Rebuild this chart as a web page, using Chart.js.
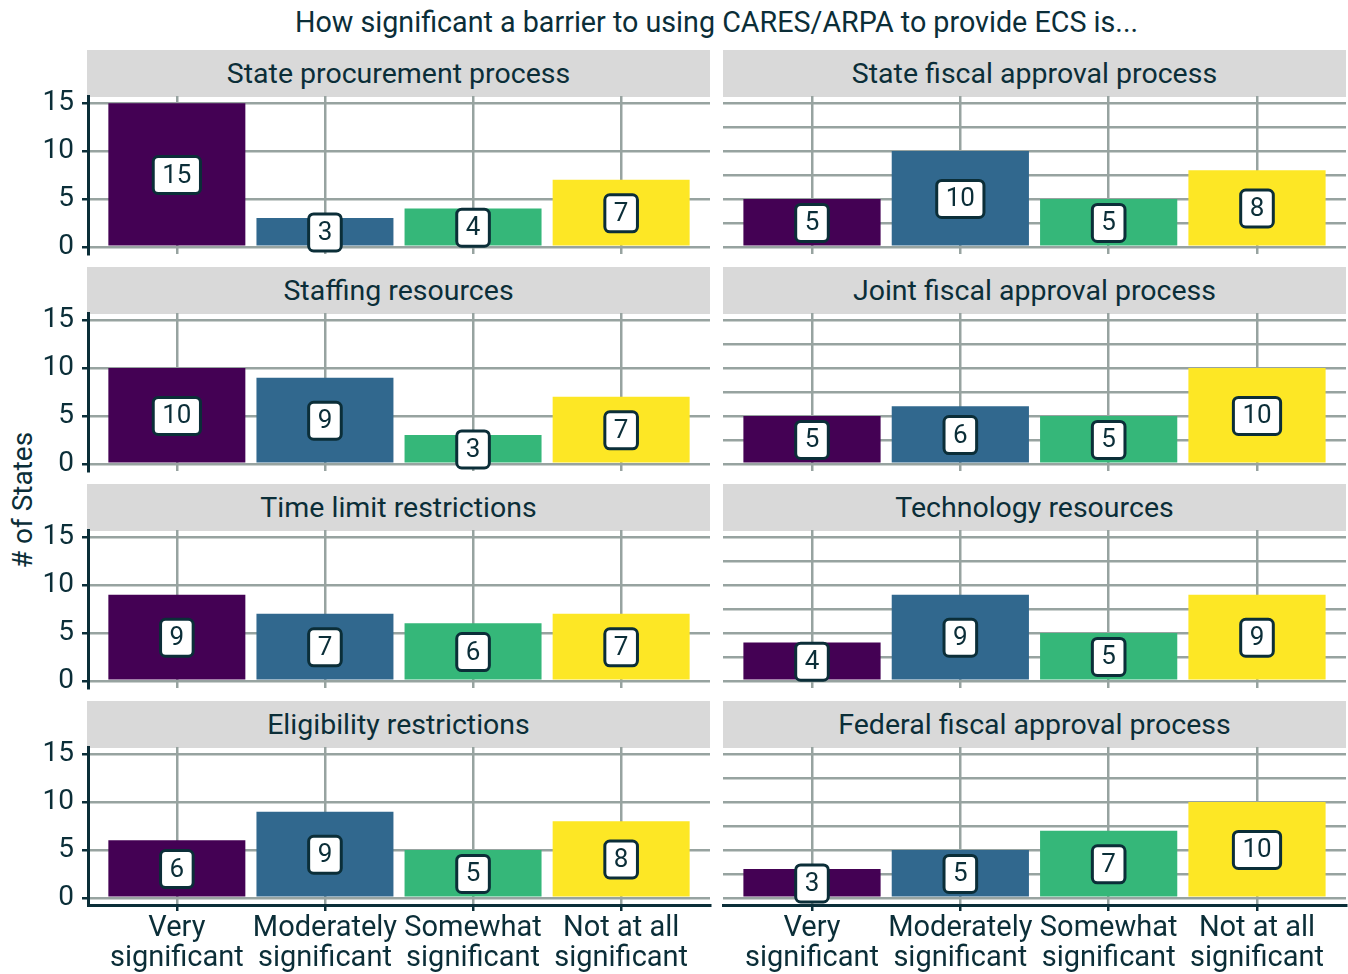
<!DOCTYPE html>
<html>
<head>
<meta charset="utf-8">
<script src="https://cdn.jsdelivr.net/npm/chart.js@4.4.1/dist/chart.umd.min.js"></script>
<style>
  body { margin: 0; background: #fff; font-family: Roboto, sans-serif; color: #0b2e38; }
  #wrap { position: relative; width: 1348px; height: 974px; overflow: hidden; }
  canvas { position: absolute; left: 0; top: 0; }
  .strip { position: absolute; background: #d9d9d9; text-align: center; font-size: 28.5px; height: 47px; line-height: 48px; }
  #title { position: absolute; left: 87px; width: 1259px; top: 4px; text-align: center; font-size: 28.7px; line-height: 36px; }
  #ylab { position: absolute; left: 22px; top: 500px; transform: translate(-50%, -50%) rotate(-90deg); font-size: 28px; white-space: nowrap; }
</style>
</head>
<body>
<div id="wrap">
  <div id="title">How significant a barrier to using CARES/ARPA to provide ECS is...</div>
  <div id="ylab"># of States</div>
</div>
<script>
// categories on the x axis (multi-line tick labels)
const categories = [
    ["Very", "significant"],
    ["Moderately", "significant"],
    ["Somewhat", "significant"],
    ["Not at all", "significant"]
];
const barColors = ["#440154", "#31688e", "#35b779", "#fde725"];

// y grid lines (major + minor) and the ones that get a label
const yGridValues = [0, 2.5, 5, 7.5, 10, 12.5, 15];
const yLabelValues = [0, 5, 10, 15];

// number of states per barrier
const stateProcurement = [15, 3, 4, 7];
const stateFiscal = [5, 10, 5, 8];
const staffing = [10, 9, 3, 7];
const jointFiscal = [5, 6, 5, 10];
const timeLimit = [9, 7, 6, 7];
const technology = [4, 9, 5, 9];
const eligibility = [6, 9, 5, 8];
const federalFiscal = [3, 5, 7, 10];

const panels = [
    { title: "State procurement process", values: stateProcurement, row: 0, col: 0 },
    { title: "State fiscal approval process", values: stateFiscal, row: 0, col: 1 },
    { title: "Staffing resources", values: staffing, row: 1, col: 0 },
    { title: "Joint fiscal approval process", values: jointFiscal, row: 1, col: 1 },
    { title: "Time limit restrictions", values: timeLimit, row: 2, col: 0 },
    { title: "Technology resources", values: technology, row: 2, col: 1 },
    { title: "Eligibility restrictions", values: eligibility, row: 3, col: 0 },
    { title: "Federal fiscal approval process", values: federalFiscal, row: 3, col: 1 }
];

const W = 1348, H = 974;
const darkColor = "#0b2e38";
const gridColor = "#97a3a0";
const colLeft = [88, 723];
const colRight = [710, 1346];
const stripLeft = [87, 723];

// white boxed value labels in the middle of each bar
const labelPlugin = {
    id: "barLabels",
    afterDatasetsDraw(chart) {
        const ctx = chart.ctx;
        const yScale = chart.scales.y;
        const meta = chart.getDatasetMeta(0);
        const points = chart.data.datasets[0].data;
        ctx.save();
        ctx.font = "26px Roboto";
        ctx.textAlign = "center";
        ctx.textBaseline = "middle";
        meta.data.forEach(function (bar, i) {
            const v = points[i].y;
            const cy = yScale.getPixelForValue(v / 2);
            const text = String(v);
            const w = ctx.measureText(text).width + 18;
            const h = 37;
            ctx.beginPath();
            ctx.roundRect(bar.x - w / 2, cy - h / 2, w, h, 5);
            ctx.fillStyle = "#fff";
            ctx.fill();
            ctx.lineWidth = 3;
            ctx.strokeStyle = darkColor;
            ctx.stroke();
            ctx.fillStyle = darkColor;
            ctx.fillText(text, bar.x, cy + 1);
        });
        ctx.restore();
    }
};

function drawPanel(p) {
    const wrap = document.getElementById("wrap");
    const isLeft = p.col === 0;
    const isBottom = p.row === 3;
    const top = 96 + 217 * p.row;
    const bottom = top + 158;

    // facet strip
    const strip = document.createElement("div");
    strip.className = "strip";
    strip.style.left = stripLeft[p.col] + "px";
    strip.style.width = (colRight[p.col] - stripLeft[p.col]) + "px";
    strip.style.top = (top - 46) + "px";
    strip.textContent = p.title;
    wrap.appendChild(strip);

    const canvas = document.createElement("canvas");
    canvas.width = W;
    canvas.height = H;
    wrap.appendChild(canvas);

    const xAxisH = isBottom ? H - bottom : 0;
    const yAxisW = isLeft ? 88 : 0;

    new Chart(canvas, {
        type: "bar",
        data: {
            datasets: [{
                data: p.values.map(function (v, i) { return { x: i + 1, y: v }; }),
                backgroundColor: barColors,
                borderWidth: 0,
                barPercentage: 0.925,
                categoryPercentage: 1
            }]
        },
        options: {
            responsive: false,
            animation: false,
            events: [],
            layout: {
                padding: {
                    left: isLeft ? 0 : colLeft[1],
                    right: W - colRight[p.col],
                    top: top,
                    bottom: isBottom ? 0 : H - bottom
                }
            },
            plugins: {
                legend: { display: false },
                tooltip: { enabled: false }
            },
            scales: {
                x: {
                    type: "linear",
                    min: 0.4,
                    max: 4.6,
                    offset: false,
                    afterBuildTicks: function (s) {
                        s.ticks = categories.map(function (c, i) { return { value: i + 1 }; });
                    },
                    afterFit: function (s) {
                        s.height = xAxisH;
                        s.paddingLeft = 0;
                        s.paddingRight = 0;
                    },
                    grid: {
                        offset: false,
                        color: gridColor,
                        lineWidth: 2.5,
                        drawTicks: isBottom,
                        tickLength: 6,
                        tickWidth: 2.5,
                        tickColor: darkColor
                    },
                    border: { display: isBottom, color: darkColor, width: 3 },
                    ticks: {
                        display: isBottom,
                        autoSkip: false,
                        maxRotation: 0,
                        padding: 3,
                        color: darkColor,
                        font: { family: "Roboto", size: 29, lineHeight: 1.04 },
                        callback: function (v) { return categories[Math.round(v) - 1]; }
                    }
                },
                y: {
                    min: -0.75,
                    max: 15.75,
                    afterBuildTicks: function (s) {
                        s.ticks = yGridValues.map(function (v) { return { value: v }; });
                    },
                    afterFit: function (s) {
                        s.width = yAxisW;
                        s.paddingTop = 0;
                        s.paddingBottom = 0;
                    },
                    grid: {
                        color: gridColor,
                        lineWidth: 2.5,
                        drawTicks: isLeft,
                        tickLength: 6,
                        tickWidth: 2.5,
                        tickColor: function (ctx) {
                            return yLabelValues.includes(ctx.tick.value) ? darkColor : "rgba(0,0,0,0)";
                        }
                    },
                    border: { display: isLeft, color: darkColor, width: 3 },
                    ticks: {
                        display: isLeft,
                        padding: 8,
                        color: darkColor,
                        font: { family: "Roboto", size: 28 },
                        callback: function (v) { return yLabelValues.includes(v) ? String(v) : ""; }
                    }
                }
            }
        },
        plugins: [labelPlugin]
    });
}

document.fonts.load("28px Roboto").then(function () {
    panels.forEach(drawPanel);
});
</script>
</body>
</html>
